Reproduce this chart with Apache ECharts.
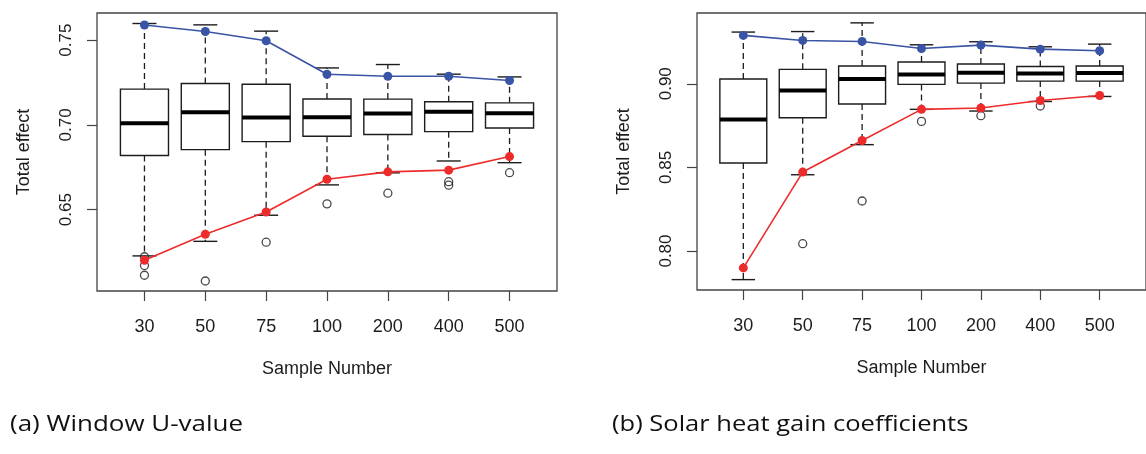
<!DOCTYPE html>
<html>
<head>
<meta charset="utf-8">
<script src="https://cdn.jsdelivr.net/npm/echarts@6/dist/echarts.min.js"></script>
<style>
  html, body { margin: 0; padding: 0; background: #fff; }
  #chart { width: 1146px; height: 454px; }
</style>
</head>
<body>
<div id="chart"></div>
<script>
const categories = ['30', '50', '75', '100', '200', '400', '500']

// (a) Window U-value
const uLow = [0.6227, 0.6313, 0.6467, 0.6646, 0.6717, 0.6787, 0.6777]
const uQ1 = [0.6819, 0.6854, 0.6901, 0.6933, 0.6943, 0.6960, 0.6982]
const uMedian = [0.7010, 0.7075, 0.7043, 0.7045, 0.7067, 0.7077, 0.7069]
const uQ3 = [0.7211, 0.7244, 0.7240, 0.7153, 0.7152, 0.7136, 0.7130]
const uHigh = [0.7598, 0.7590, 0.7553, 0.7336, 0.7356, 0.7299, 0.7283]
const uMaxLine = [0.7589, 0.7551, 0.7496, 0.7299, 0.7287, 0.7287, 0.7262]
const uMinLine = [0.6201, 0.6355, 0.6486, 0.6679, 0.6723, 0.6733, 0.6813]
const uOutliers = [['30', 0.6222], ['30', 0.6170], ['30', 0.6113], ['50', 0.6079], ['75', 0.6308],
  ['100', 0.6534], ['200', 0.6597], ['400', 0.6665], ['400', 0.6644], ['500', 0.6718]]
const uTicks = [0.65, 0.70, 0.75]

// (b) Solar heat gain coefficients
const sLow = [0.7829, 0.8456, 0.8636, 0.8847, 0.8837, 0.8894, 0.8924]
const sQ1 = [0.8526, 0.8797, 0.8879, 0.8996, 0.9004, 0.9016, 0.9016]
const sMedian = [0.8787, 0.8960, 0.9028, 0.9056, 0.9066, 0.9062, 0.9064]
const sQ3 = [0.9028, 0.9086, 0.9106, 0.9130, 0.9118, 0.9103, 0.9106]
const sHigh = [0.9309, 0.9312, 0.9364, 0.9233, 0.9251, 0.9221, 0.9237]
const sMaxLine = [0.9289, 0.9259, 0.9253, 0.9211, 0.9231, 0.9207, 0.9197]
const sMinLine = [0.7899, 0.8472, 0.8661, 0.8847, 0.8855, 0.8900, 0.8930]
const sOutliers = [['50', 0.8044], ['75', 0.8299], ['100', 0.8775], ['200', 0.8809], ['400', 0.8867]]
const sTicks = [0.80, 0.85, 0.90]

const FONT = 'Liberation Sans, Arial, sans-serif'
const INK = '#1c1c1c'
const BLUE = '#3a54a5'
const RED = '#ee2b2b'

const catPos = categories.map((c, i) => i + 1)

// R style box: dashed whiskers, short caps, thick median
const renderBox = (params, api) => {
  const x = api.value(0)
  const lo = api.coord([x, api.value(1)])
  const q1 = api.coord([x, api.value(2)])
  const md = api.coord([x, api.value(3)])
  const q3 = api.coord([x, api.value(4)])
  const hi = api.coord([x, api.value(5)])
  const w = api.size([1, 0])[0] * 0.79
  const cx = lo[0]
  const edge = { stroke: INK, lineWidth: 1.4, fill: null }
  const dash = { stroke: INK, lineWidth: 1.3, lineDash: [6, 4] }
  return {
    type: 'group',
    children: [
      { type: 'line', shape: { x1: cx, y1: q3[1], x2: cx, y2: hi[1] }, style: dash },
      { type: 'line', shape: { x1: cx, y1: q1[1], x2: cx, y2: lo[1] }, style: dash },
      { type: 'line', shape: { x1: cx - w / 4, y1: hi[1], x2: cx + w / 4, y2: hi[1] }, style: edge },
      { type: 'line', shape: { x1: cx - w / 4, y1: lo[1], x2: cx + w / 4, y2: lo[1] }, style: edge },
      { type: 'rect', shape: { x: cx - w / 2, y: q3[1], width: w, height: q1[1] - q3[1] },
        style: { stroke: INK, lineWidth: 1.4, fill: '#fff' } },
      { type: 'line', shape: { x1: cx - w / 2, y1: md[1], x2: cx + w / 2, y2: md[1] },
        style: { stroke: '#000', lineWidth: 4 } }
    ]
  }
}

const makePanel = (idx, d) => {
  const xAxis = {
    type: 'value',
    gridIndex: idx,
    min: 0.22,
    max: 7.78,
    name: 'Sample Number',
    nameLocation: 'middle',
    nameGap: 69,
    nameTextStyle: { fontFamily: FONT, fontSize: 18, color: INK },
    axisLine: { show: false },
    splitLine: { show: false },
    axisTick: { show: true, length: 10, customValues: catPos, lineStyle: { color: '#444', width: 1.2 } },
    axisLabel: {
      customValues: catPos,
      margin: 27,
      fontFamily: FONT,
      fontSize: 18,
      color: INK,
      formatter: v => categories[Math.round(v) - 1]
    }
  }
  const yAxis = {
    type: 'value',
    gridIndex: idx,
    min: d.yMin,
    max: d.yMax,
    name: 'Total effect',
    nameLocation: 'middle',
    nameGap: 64,
    nameTextStyle: { fontFamily: FONT, fontSize: 18, color: INK },
    axisLine: { show: false },
    splitLine: { show: false },
    axisTick: { show: true, length: 10, customValues: d.ticks, lineStyle: { color: '#444', width: 1.2 } },
    axisLabel: {
      customValues: d.ticks,
      rotate: 90,
      margin: 22,
      fontFamily: FONT,
      fontSize: 17,
      color: INK,
      formatter: v => v.toFixed(2)
    }
  }
  const series = [
    {
      type: 'custom',
      xAxisIndex: idx,
      yAxisIndex: idx,
      renderItem: renderBox,
      encode: { x: 0, y: [1, 2, 3, 4, 5] },
      data: d.low.map((v, i) => [i + 1, d.low[i], d.q1[i], d.median[i], d.q3[i], d.high[i]]),
      z: 2
    },
    {
      type: 'scatter',
      xAxisIndex: idx,
      yAxisIndex: idx,
      symbol: 'circle',
      symbolSize: 8,
      itemStyle: { color: 'rgba(0,0,0,0)', borderColor: INK, borderWidth: 1.3 },
      data: d.outliers.map(o => [categories.indexOf(o[0]) + 1, o[1]]),
      z: 3
    },
    {
      type: 'line',
      xAxisIndex: idx,
      yAxisIndex: idx,
      symbol: 'circle',
      symbolSize: 9,
      lineStyle: { color: BLUE, width: 1.6 },
      itemStyle: { color: BLUE },
      data: d.maxLine.map((v, i) => [i + 1, v]),
      z: 4
    },
    {
      type: 'line',
      xAxisIndex: idx,
      yAxisIndex: idx,
      symbol: 'circle',
      symbolSize: 9,
      lineStyle: { color: RED, width: 1.6 },
      itemStyle: { color: RED },
      data: d.minLine.map((v, i) => [i + 1, v]),
      z: 4
    }
  ]
  return { xAxis, yAxis, series }
}

const panelA = makePanel(0, {
  yMin: 0.602, yMax: 0.766, ticks: uTicks,
  low: uLow, q1: uQ1, median: uMedian, q3: uQ3, high: uHigh,
  maxLine: uMaxLine, minLine: uMinLine, outliers: uOutliers
})
const panelB = makePanel(1, {
  yMin: 0.7767, yMax: 0.9423, ticks: sTicks,
  low: sLow, q1: sQ1, median: sMedian, q3: sQ3, high: sHigh,
  maxLine: sMaxLine, minLine: sMinLine, outliers: sOutliers
})

const captionStyle = (text) => ({
  text: text,
  fontFamily: 'Open Sans, Noto Sans, sans-serif',
  fontSize: 22,
  fill: '#111',
  verticalAlign: 'middle'
})

const chart = echarts.init(document.getElementById('chart'))
chart.setOption({
  animation: false,
  backgroundColor: '#fff',
  grid: [
    { left: 97, top: 13, width: 460, height: 278, show: true, borderColor: '#444', borderWidth: 1.3 },
    { left: 697, top: 13, width: 460, height: 277, show: true, borderColor: '#444', borderWidth: 1.3 }
  ],
  xAxis: [panelA.xAxis, panelB.xAxis],
  yAxis: [panelA.yAxis, panelB.yAxis],
  series: [...panelA.series, ...panelB.series],
  graphic: [
    { type: 'text', x: 10, y: 425, scaleX: 1.18, style: captionStyle('(a) Window U-value') },
    { type: 'text', x: 612, y: 425, scaleX: 1.16, style: captionStyle('(b) Solar heat gain coefficients') }
  ]
})
</script>
</body>
</html>
